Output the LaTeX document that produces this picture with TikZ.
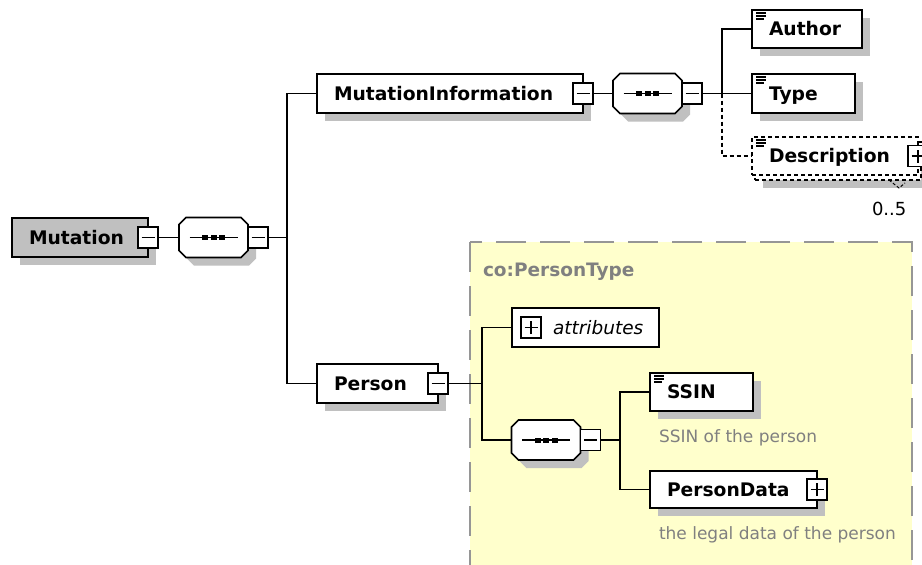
\documentclass[tikz,border=0pt]{standalone}
\usepackage{fontspec}
\setmainfont{DejaVu Sans}
\usetikzlibrary{shadows}
\definecolor{shd}{RGB}{192,192,192}
\definecolor{yel}{RGB}{255,255,204}
\definecolor{txtgray}{RGB}{128,128,128}
\definecolor{framec}{RGB}{150,150,150}
\tikzset{
  con/.style={line width=1.5pt},
  dcon/.style={line width=1.4pt, dash pattern=on 4pt off 3pt},
  elemns/.style={draw, line width=1.7pt, fill=white, anchor=north west, inner xsep=17pt, inner ysep=0pt,
    text height=15.5pt, text depth=2.5pt, align=left, font=\bfseries\fontsize{18.7}{20}\selectfont},
  elem/.style={elemns, drop shadow={shadow xshift=8pt, shadow yshift=-8pt, opacity=1, fill=shd}},
  dashbox/.style={line width=1.3pt, dash pattern=on 4pt off 3pt},
  seq/.style={rectangle, minimum width=69pt, minimum height=40pt, inner sep=0pt},
  octo/.style={line width=1.7pt, draw=black, fill=white},
  btn/.style={draw, line width=1.4pt, fill=white, minimum width=20pt, minimum height=21pt, inner sep=0pt},
  minusbtn/.style={btn, path picture={\draw[line width=1.4pt] ([xshift=-6.5pt]path picture bounding box.center) -- ([xshift=6.5pt]path picture bounding box.center);}},
  plusbtn/.style={btn, path picture={\draw[line width=1.4pt] ([xshift=-6.5pt]path picture bounding box.center) -- ([xshift=6.5pt]path picture bounding box.center) ([yshift=-6.5pt]path picture bounding box.center) -- ([yshift=6.5pt]path picture bounding box.center);}},
  gtitle/.style={font=\bfseries\fontsize{18.5}{20}\selectfont, text=txtgray, inner sep=0pt, anchor=base west},
  comment/.style={font=\fontsize{17}{20}\selectfont, text=txtgray, inner sep=0pt, anchor=base west},
}
% octagon around a named (invisible) sequence node, with its shadow and its icon
\newcommand{\drawocto}[1]{%
  \fill[shd] ([shift={(15,8)}]#1.north west) -- ([shift={(1,8)}]#1.north east) -- ([shift={(8,15)}]#1.north east)
    -- ([shift={(8,1)}]#1.south east) -- ([shift={(1,8)}]#1.south east) -- ([shift={(15,8)}]#1.south west)
    -- ([shift={(8,1)}]#1.south west) -- ([shift={(8,15)}]#1.north west) -- cycle;
  \filldraw[octo] ([shift={(7,0)}]#1.north west) -- ([shift={(-7,0)}]#1.north east) -- ([shift={(0,7)}]#1.north east)
    -- ([shift={(0,-7)}]#1.south east) -- ([shift={(-7,0)}]#1.south east) -- ([shift={(7,0)}]#1.south west)
    -- ([shift={(0,-7)}]#1.south west) -- ([shift={(0,7)}]#1.north west) -- cycle;
  \draw[line width=1.5pt] ([xshift=-24pt]#1.center) -- ([xshift=24pt]#1.center);
  \foreach \dx in {-8.5,0,8.5}
    \fill ([shift={(\dx-3,-2.5)}]#1.center) rectangle ([shift={(\dx+3,2.5)}]#1.center);
}
\begin{document}
\begin{tikzpicture}[x=1pt,y=-1pt,every node/.append style={outer sep=0pt}]
\useasboundingbox (0,0) rectangle (922,565);
\clip (0,0) rectangle (922,565);
\fill[white] (0,0) rectangle (922,565);
% complex type region
\path[fill=yel, draw=framec, line width=1.6pt, dash pattern=on 30pt off 14pt] (470,242) rectangle (912,620);
\node[gtitle] (ptype) at (483,276) {co:PersonType};

% root
\node[elem, fill=shd, minimum width=136pt, minimum height=39pt, text width=102pt] (mut) at (12,218) {Mutation};
\node[minusbtn] (mutb) at (mut.east) {};
\node[seq] (seq1) at (213.5,237.5) {};
\drawocto{seq1}
\node[minusbtn, anchor=west] (s1b) at (seq1.east) {};
\coordinate (j1) at (287,237.5);

% MutationInformation
\node[elem, minimum width=266pt, minimum height=39pt, text width=232pt] (mi) at (317,74) {MutationInformation};
\node[minusbtn] (mib) at (mi.east) {};
\node[seq] (seq2) at (647.5,93.5) {};
\drawocto{seq2}
\node[minusbtn, anchor=west] (s2b) at (seq2.east) {};
\coordinate (j2) at (722,93.5);
\node[elem, minimum width=110pt, minimum height=38pt, text width=76pt] (auth) at (752,10) {Author};
\node[elem, minimum width=103pt, minimum height=39pt, text width=69pt] (type) at (752,74) {Type};
\node[elem, dashbox, minimum width=166pt, minimum height=38pt, text width=132pt] (descback) at (755,142) {};
\node[elemns, dashbox, minimum width=166pt, minimum height=38pt, text width=132pt] (desc) at (752,137) {Description};
\node[plusbtn] (descb) at (desc.east) {};
\node[font=\fontsize{18}{20}\selectfont, inner sep=0pt, anchor=base west] (mult) at (872,215) {0..5};
\draw[line width=1pt, dash pattern=on 3pt off 2pt] ([shift={(-32,0)}]descback.south east) -- ++(10,8) -- ++(6,-5);

% Person
\node[elem, minimum width=121pt, minimum height=39pt, text width=87pt] (per) at (317,364) {Person};
\node[minusbtn] (perb) at (per.east) {};
\coordinate (j3) at (482,383.5);
\node[elemns, inner xsep=15pt, font=\itshape\fontsize{18.5}{20}\selectfont, minimum width=147pt, minimum height=39pt, text width=117pt] (attr) at (512,308) {\hspace*{26pt}attributes};
\node[plusbtn] (attrb) at (531,327.5) {};
\node[seq] (seq3) at (546,440) {};
\drawocto{seq3}
\node[minusbtn, anchor=west] (s3b) at (seq3.east) {};
\coordinate (j4) at (620,440);
\node[elem, minimum width=103pt, minimum height=38pt, text width=69pt] (ssin) at (650,373) {SSIN};
\node[comment] (ssinc) at (659,442) {SSIN of the person};
\node[elem, minimum width=167pt, minimum height=37pt, text width=133pt] (pd) at (650,471) {PersonData};
\node[plusbtn] (pdb) at (pd.east) {};
\node[comment] (pdc) at (659,539) {the legal data of the person};

% simple-content icons
\foreach \n in {auth,type,desc,ssin} {
  \draw[line width=1.1pt] ([shift={(4,3)}]\n.north west) -- ++(10,0)
    ([shift={(4,6)}]\n.north west) -- ++(10,0)
    ([shift={(4,9)}]\n.north west) -- ++(8,0);
}

% connectors
\draw[con] (mutb.east) -- (seq1.west);
\draw[con] (s1b.east) -- (j1);
\draw[con] (j1) |- (mi.west);
\draw[con] (j1) |- (per.west);
\draw[con] (mib.east) -- (seq2.west);
\draw[con] (s2b.east) -- (j2);
\draw[con] (j2) |- (auth.west);
\draw[con] (j2) -- (type.west);
\draw[dcon] (j2) |- (desc.west);
\draw[con] (perb.east) -- (j3);
\draw[con] (j3) |- (attr.west);
\draw[con] (j3) |- (seq3.west);
\draw[con] (s3b.east) -- (j4);
\draw[con] (j4) |- (ssin.west);
\draw[con] (j4) |- (pd.west);
\end{tikzpicture}
\end{document}
